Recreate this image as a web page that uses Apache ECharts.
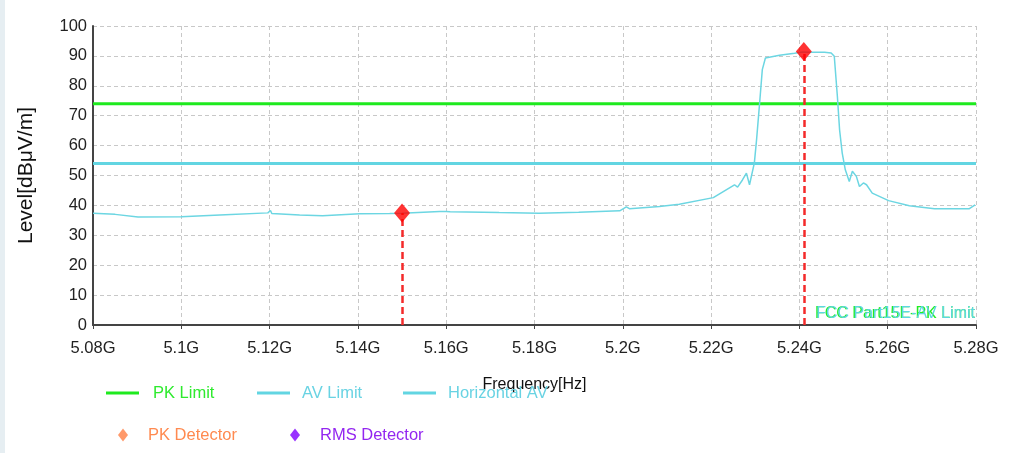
<!DOCTYPE html>
<html>
<head>
<meta charset="utf-8">
<script src="https://cdn.jsdelivr.net/npm/echarts@6/dist/echarts.min.js"></script>
<style>
html,body{margin:0;padding:0;background:#fff;}
#chart{width:1017px;height:453px;}
</style>
</head>
<body>
<div id="chart"></div>
<script>
// ---- Data (frequency in MHz, level in dBµV/m) ----
const traceFreq = [5080,5085,5090.2,5100,5110,5119.6,5120.2,5120.5,5126.8,5132,5140.4,5147.2,5150,5158.5,5160,5160.4,5160.9,5172,5181,5190,5199.3,5200.8,5201.5,5208.3,5212.8,5220.5,5225.3,5226,5227.1,5228,5228.7,5229.8,5230.3,5231,5231.6,5232.3,5235.5,5238.9,5240.7,5242.7,5245.7,5247.2,5247.9,5248.6,5249.1,5249.7,5250.4,5251.3,5252,5252.9,5253.6,5254.5,5255.2,5256.5,5260.2,5264.9,5270.6,5278.5,5279.8];
const traceLevel = [37.4,37.0,36.1,36.2,36.9,37.5,38.3,37.3,36.8,36.5,37.2,37.3,37.4,38.0,38.0,38.6,37.9,37.6,37.4,37.7,38.2,39.5,38.9,39.6,40.4,42.6,46.9,46.1,48.5,50.8,46.9,54.2,62.0,74.4,85.4,89.3,90.2,90.9,91.3,91.2,91.2,91.0,89.9,76.5,65.3,57.5,51.9,48.0,51.4,49.7,46.3,47.5,46.9,44.1,41.6,39.9,38.9,38.9,40.2];
const freqRange = [5080, 5280];
const pkLimit = 74;
const avLimit = 54;
const detectorFreq = [5150, 5241];
const detectorLevel = [37.5, 91.5];
const yTicks = [0,10,20,30,40,50,60,70,80,90,100];

const FONT = '"Liberation Sans",Arial,sans-serif';
const chart = echarts.init(document.getElementById('chart'));

const trace = traceFreq.map((f,i)=>[f, traceLevel[i]]);
const detectors = detectorFreq.map((f,i)=>({value:[f, detectorLevel[i]], itemStyle:{color:'#FF0000'}}));
const dropLines = detectorFreq.map((f,i)=>[{coord:[f,0]},{coord:[f,detectorLevel[i]]}]);

function legendItem(name, left, top, textColor, iconW, iconH, textPad, extra){
  return {
    show:true, left:left, top:top, padding:0, orient:'horizontal',
    itemWidth:iconW, itemHeight:iconH, selectedMode:false,
    data:[Object.assign({name:name}, extra||{})],
    textStyle:{color:textColor, fontFamily:FONT, fontSize:16.5, lineHeight:20, padding:[0,0,0,textPad]}
  };
}

chart.setOption({
  animation:false,
  backgroundColor:'#fff',
  grid:{left:93, right:41, top:26, bottom:128, containLabel:false},
  xAxis:{
    type:'value', min:freqRange[0], max:freqRange[1], interval:20,
    name:'Frequency[Hz]', nameLocation:'middle', nameGap:52,
    nameTextStyle:{color:'#111', fontFamily:FONT, fontSize:16},
    axisLine:{show:true, lineStyle:{color:'#444', width:2}},
    axisTick:{show:true, length:4, lineStyle:{color:'#444'}},
    axisLabel:{color:'#222', fontFamily:FONT, fontSize:16.5, margin:15,
      formatter:v=>parseFloat((v/1000).toFixed(3))+'G'},
    splitLine:{show:true, lineStyle:{color:'#c8c8c8', type:[4,3], width:1}}
  },
  yAxis:{
    type:'value', min:yTicks[0], max:yTicks[yTicks.length-1], interval:10,
    name:'Level[dBμV/m]', nameLocation:'middle', nameGap:56, nameRotate:90,
    nameTextStyle:{color:'#111', fontFamily:FONT, fontSize:21},
    axisLine:{show:true, lineStyle:{color:'#444', width:2}},
    axisTick:{show:false},
    axisLabel:{color:'#222', fontFamily:FONT, fontSize:16.5, margin:6},
    splitLine:{show:true, lineStyle:{color:'#c8c8c8', type:[4,3], width:1}}
  },
  legend:[
    legendItem('PK Limit', 106, 383, '#2EEA2E', 33, 3, 9, {icon:'rect'}),
    legendItem('AV Limit', 257, 383, '#69D3E3', 33, 3, 7, {icon:'rect'}),
    legendItem('Horizontal AV', 403, 383, '#69D3E3', 33, 3, 7, {icon:'rect'}),
    legendItem('PK Detector', 118, 425, '#FF8A50', 10, 13, 15),
    legendItem('RMS Detector', 290, 425, '#9326F0', 10, 13, 15)
  ],
  graphic:[
    {type:'rect', left:0, top:0, shape:{width:5, height:453}, style:{fill:'#E6EEF2'}, silent:true},
    {type:'text', x:975, y:314, style:{text:'FCC Part15E-PK Limit', fill:'#22EE22', font:'16px '+FONT, align:'right', verticalAlign:'middle'}, z:100},
    {type:'text', x:975, y:314, style:{text:'FCC Part15E-AV Limit', fill:'#5ED6E2', font:'16px '+FONT, align:'right', verticalAlign:'middle'}, z:101}
  ],
  series:[
    {name:'PK Limit', type:'line', symbol:'none', data:[[freqRange[0],pkLimit],[freqRange[1],pkLimit]],
      lineStyle:{color:'#1EEA1E', width:3}, itemStyle:{color:'#1EEA1E'}, z:3},
    {name:'AV Limit', type:'line', symbol:'none', data:[[freqRange[0],avLimit],[freqRange[1],avLimit]],
      lineStyle:{color:'#62D5E2', width:3}, itemStyle:{color:'#62D5E2'}, z:3},
    {name:'Horizontal AV', type:'line', symbol:'none', data:trace,
      lineStyle:{color:'#6CD6E2', width:1.5}, itemStyle:{color:'#62D5E2'}, z:4},
    {name:'PK Detector', type:'scatter', symbol:'diamond', symbolSize:[16,19], data:detectors,
      itemStyle:{color:'#FF7F45'}, z:10,
      markLine:{silent:true, symbol:['none','none'], label:{show:false},
        lineStyle:{color:'#F42A2A', type:[7,4], width:2.5}, data:dropLines, z:6}
    },
    {name:'RMS Detector', type:'scatter', symbol:'diamond', data:[], itemStyle:{color:'#7F00FF'}}
  ]
});
</script>
</body>
</html>
